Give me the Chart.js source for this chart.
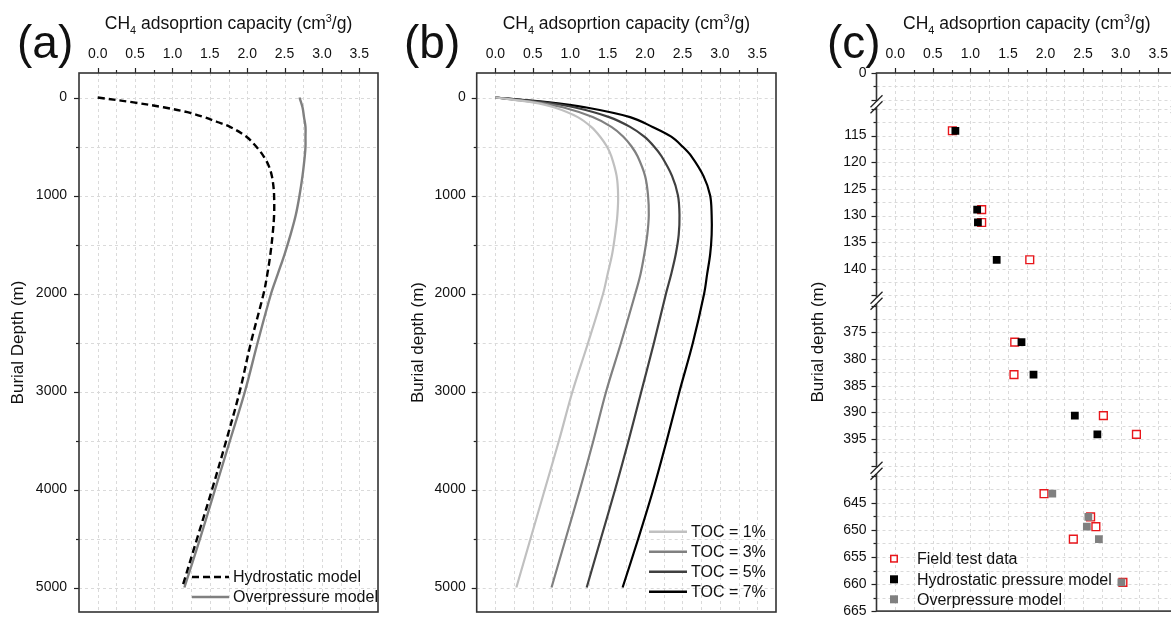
<!DOCTYPE html>
<html><head><meta charset="utf-8">
<script src="https://cdn.jsdelivr.net/npm/chart.js@4.4.1/dist/chart.umd.min.js"></script>
<style>
html,body{margin:0;padding:0;background:#fff;overflow:hidden;}
body{width:1171px;height:618px;position:relative;}
canvas{position:absolute;top:0;}
</style></head><body>
<canvas id="ca" width="400" height="618" style="left:0px"></canvas>
<canvas id="cb" width="400" height="618" style="left:400px"></canvas>
<canvas id="cc" width="400" height="618" style="left:800px"></canvas>
<script>
const FAM = '"Liberation Sans", Arial, Helvetica, sans-serif';
Chart.defaults.font.family = FAM;
Chart.defaults.color = '#111';

// ---------- shared axis ticks ----------
const capTicks = [0,0.25,0.5,0.75,1,1.25,1.5,1.75,2,2.25,2.5,2.75,3,3.25,3.5];
const capMajor = [0,0.5,1,1.5,2,2.5,3,3.5];
const capLabels = ['0.0','0.5','1.0','1.5','2.0','2.5','3.0','3.5'];
const depthTicks = [0,500,1000,1500,2000,2500,3000,3500,4000,4500,5000];
const depthLabels = [0,1000,2000,3000,4000,5000];

// ---------- panel (a) ----------
const depthHydro = [0,50,100,150,200,250,300,400,500,600,700,800,900,1000,1200,1400,1600,1800,2000,2500,3000,3500,4000,4500,5000];
const hydrostatic = [0,0.48,0.88,1.20,1.42,1.60,1.77,1.99,2.12,2.22,2.29,2.33,2.35,2.36,2.36,2.34,2.31,2.27,2.22,2.05,1.90,1.72,1.53,1.33,1.13];
const depthOver = [0,100,200,300,400,500,600,800,1000,1200,1400,1600,1800,2000,2500,3000,3500,4000,4500,5000];
const overpressure = [2.70,2.74,2.76,2.78,2.78,2.78,2.77,2.74,2.70,2.65,2.58,2.50,2.41,2.32,2.14,1.97,1.77,1.57,1.37,1.16];

// ---------- panel (b) ----------
const depthTOC = [0,50,100,200,300,400,500,600,800,1000,1200,1400,1600,1800,2000,2500,3000,3500,4000,4500,5000];
const toc1 = [0,0.50,0.78,1.10,1.28,1.40,1.49,1.55,1.62,1.64,1.63,1.60,1.56,1.50,1.44,1.24,1.03,0.85,0.66,0.47,0.28];
const toc3 = [0,0.55,0.90,1.30,1.55,1.71,1.82,1.90,2.00,2.04,2.05,2.03,1.99,1.94,1.87,1.68,1.48,1.31,1.13,0.94,0.75];
const toc5 = [0,0.65,1.05,1.52,1.80,1.99,2.12,2.22,2.36,2.44,2.46,2.45,2.41,2.35,2.28,2.12,1.95,1.78,1.60,1.41,1.22];
const toc7 = [0,0.72,1.20,1.80,2.10,2.35,2.50,2.62,2.78,2.87,2.89,2.89,2.87,2.83,2.79,2.64,2.46,2.29,2.11,1.91,1.70];
const tocNames = ['TOC = 1%','TOC = 3%','TOC = 5%','TOC = 7%'];

// ---------- panel (c) : broken depth axis ----------
const segARange = [0, 5.87],        segATicks = [0,2.5,5],  segALabels = [0];
const segBRange = [109.13, 145.98], segBTicks = [110,112.5,115,117.5,120,122.5,125,127.5,130,132.5,135,137.5,140,142.5,145], segBLabels = [115,120,125,130,135,140];
const segCRange = [369.04, 400.93], segCTicks = [370,372.5,375,377.5,380,382.5,385,387.5,390,392.5,395,397.5,400], segCLabels = [375,380,385,390,395];
const segDRange = [639.06, 665],    segDTicks = [640,642.5,645,647.5,650,652.5,655,657.5,660,662.5,665], segDLabels = [645,650,655,660,665];

const fieldDepthB = [114.1,128.9,131.3,138.3], fieldB = [0.76,1.15,1.15,1.79];
const hydroDepthB = [114.1,128.9,131.3,138.3], hydroB = [0.80,1.09,1.10,1.35];
const fieldDepthC = [376.8,382.9,390.6,394.1], fieldC = [1.59,1.58,2.77,3.21];
const hydroDepthC = [376.8,382.9,390.6,394.1], hydroC = [1.68,1.84,2.39,2.69];
const fieldDepthD = [643.3,647.6,649.4,651.7,659.7], fieldD = [1.98,2.60,2.67,2.37,3.03];
const overDepthD  = [643.3,647.6,649.4,651.7,659.7], overD  = [2.09,2.57,2.55,2.71,3.01];

const xyPairs = (xs, ys) => xs.map((x, i) => ({x: x, y: ys[i]}));

// ---------- helpers ----------
function drawRich(ctx, parts, cx, y, size) {
  const small = size * 0.62;
  const ws = parts.map(([t, m]) => { ctx.font = (m ? small : size) + 'px ' + FAM; return ctx.measureText(t).width; });
  let x = cx - ws.reduce((a, b) => a + b, 0) / 2;
  ctx.textAlign = 'left'; ctx.textBaseline = 'alphabetic';
  parts.forEach(([t, m], i) => {
    ctx.font = (m ? small : size) + 'px ' + FAM;
    ctx.fillText(t, x, y + (m === -1 ? size * 0.28 : (m === 1 ? -size * 0.40 : 0)));
    x += ws[i];
  });
}
const titleParts = [['CH', 0], ['4', -1], [' adsoprtion capacity (cm', 0], ['3', 1], ['/g)', 0]];

function makeDeco(cfg) {
  return {
    id: 'deco',
    beforeDatasetsDraw(chart) {
      const {ctx, chartArea: a} = chart;
      ctx.save();
      ctx.strokeStyle = '#dadada'; ctx.lineWidth = 1; ctx.setLineDash([3, 3]);
      for (const s of Object.values(chart.scales)) {
        for (const t of s.ticks) {
          const p = Math.round(s.getPixelForValue(t.value)) + 0.5;
          ctx.beginPath();
          if (s.isHorizontal()) {
            if (p <= a.left + 1 || p >= a.right - 1) continue;
            ctx.moveTo(p, a.top); ctx.lineTo(p, a.bottom);
          } else {
            if (p <= a.top + 1 || p >= a.bottom - 1) continue;
            ctx.moveTo(a.left, p); ctx.lineTo(a.right, p);
          }
          ctx.stroke();
        }
      }
      ctx.restore();
    },
    afterDraw(chart) {
      const {ctx, chartArea: a} = chart;
      const off = cfg.offset;
      ctx.save();
      ctx.setLineDash([]);
      // tick marks
      ctx.strokeStyle = '#222'; ctx.lineWidth = 1.2;
      for (const s of Object.values(chart.scales)) {
        for (const t of s.ticks) {
          const major = cfg.isMajor(s, t.value);
          const len = major ? 5 : 3;
          const p = Math.round(s.getPixelForValue(t.value)) + 0.5;
          ctx.beginPath();
          if (s.isHorizontal()) { ctx.moveTo(p, a.top); ctx.lineTo(p, a.top - len); }
          else { ctx.moveTo(a.left, p); ctx.lineTo(a.left - len, p); }
          ctx.stroke();
        }
      }
      // frame
      ctx.strokeStyle = '#333'; ctx.lineWidth = 1.6;
      ctx.strokeRect(a.left, a.top, a.right - a.left, a.bottom - a.top);
      // axis breaks
      if (cfg.breaks) {
        ctx.strokeStyle = '#222'; ctx.lineWidth = 1.3;
        cfg.breaks(chart).forEach(y => {
          [a.left, a.right].forEach(x => {
            ctx.fillStyle = '#fff';
            ctx.fillRect(x - 2, y - 3, 4, 6);
            [-3, 3].forEach(d => {
              ctx.beginPath();
              ctx.moveTo(x - 6, y + d + 6); ctx.lineTo(x + 6, y + d - 6); ctx.stroke();
            });
          });
        });
      }
      // titles
      ctx.fillStyle = '#111';
      drawRich(ctx, titleParts, (a.left + a.right) / 2, 29, 17.5);
      ctx.save();
      ctx.translate(cfg.yTitleX - off, (a.top + a.bottom) / 2);
      ctx.rotate(-Math.PI / 2);
      ctx.font = '17px ' + FAM; ctx.textAlign = 'center'; ctx.textBaseline = 'middle';
      ctx.fillText(cfg.yTitle, 0, 0);
      ctx.restore();
      ctx.font = '46px ' + FAM; ctx.textAlign = 'left'; ctx.textBaseline = 'alphabetic';
      ctx.fillText(cfg.panel, cfg.panelX - off, 58);
      // legend
      ctx.font = '16px ' + FAM; ctx.textBaseline = 'middle'; ctx.textAlign = 'left';
      cfg.legend.forEach(it => {
        ctx.save();
        if (it.kind === 'line') {
          ctx.strokeStyle = it.color; ctx.lineWidth = it.width; ctx.setLineDash(it.dash || []);
          ctx.beginPath(); ctx.moveTo(it.x1 - off, it.y); ctx.lineTo(it.x2 - off, it.y); ctx.stroke();
        } else {
          const s = 8, cx = it.x1 - off;
          if (it.hollow) {
            ctx.fillStyle = '#fff'; ctx.fillRect(cx - s / 2, it.y - s / 2, s, s);
            ctx.strokeStyle = it.color; ctx.lineWidth = 1.5; ctx.strokeRect(cx - s / 2 + 0.75, it.y - s / 2 + 0.75, s - 1.5, s - 1.5);
          } else { ctx.fillStyle = it.color; ctx.fillRect(cx - s / 2, it.y - s / 2, s, s); }
        }
        ctx.restore();
        ctx.fillStyle = '#111';
        ctx.fillText(it.text, it.tx - off, it.y + 1);
      });
      ctx.restore();
    }
  };
}

function xScale() {
  return {
    type: 'linear', position: 'top', min: -0.25, max: 3.75,
    afterBuildTicks: s => { s.ticks = capTicks.map(v => ({value: v})); },
    afterFit: s => { s.height = 73; s.paddingLeft = 0; s.paddingRight = 0; },
    grid: {display: false, drawTicks: false}, border: {display: false},
    ticks: {autoSkip: false, maxRotation: 0, minRotation: 0, padding: 10, font: {size: 14}, color: '#111',
      callback: v => { const i = capMajor.indexOf(v); return i >= 0 ? capLabels[i] : ''; }}
  };
}
function depthScale(w, pad) {
  return {
    type: 'linear', position: 'left', reverse: true, min: -250, max: 5250,
    afterBuildTicks: s => { s.ticks = depthTicks.map(v => ({value: v})); },
    afterFit: s => { s.width = w; s.paddingTop = 0; s.paddingBottom = 0; },
    grid: {display: false, drawTicks: false}, border: {display: false},
    ticks: {autoSkip: false, padding: pad, font: {size: 14}, color: '#111',
      callback: v => depthLabels.includes(v) ? String(v) : ''}
  };
}
const isMajorAB = (s, v) => s.isHorizontal() ? capMajor.includes(v) : depthLabels.includes(v);
const lineDS = (label, xs, ys, color, width, dash) => ({
  label, data: xyPairs(xs, ys), showLine: true, borderColor: color, backgroundColor: color,
  borderWidth: width, borderDash: dash || [], pointRadius: 0, tension: 0.35, fill: false
});
const common = (padR, padB) => ({
  responsive: false, animation: false, devicePixelRatio: 1,
  layout: {padding: {left: 0, right: padR, top: 0, bottom: padB}},
  plugins: {legend: {display: false}, tooltip: {enabled: false}, title: {display: false}}
});

// chart (a)
new Chart(document.getElementById('ca'), {
  type: 'scatter',
  data: {datasets: [
    lineDS('Hydrostatic model', hydrostatic, depthHydro, '#000', 2.4, [7, 4]),
    lineDS('Overpressure model', overpressure, depthOver, '#808080', 2.4)
  ]},
  options: Object.assign(common(22, 6), {scales: {x: xScale(), y: depthScale(79, 12)}}),
  plugins: [makeDeco({
    offset: 0, isMajor: isMajorAB, yTitle: 'Burial Depth (m)', yTitleX: 18, panel: '(a)', panelX: 17,
    legend: [
      {kind: 'line', color: '#000', width: 2.4, dash: [7, 4], x1: 192, x2: 229, y: 577, text: 'Hydrostatic model', tx: 233},
      {kind: 'line', color: '#808080', width: 2.4, x1: 192, x2: 229, y: 597, text: 'Overpressure model', tx: 233}
    ]
  })]
});

// chart (b)
const tocColors = ['#c0c0c0', '#808080', '#404040', '#000000'];
new Chart(document.getElementById('cb'), {
  type: 'scatter',
  data: {datasets: [
    lineDS(tocNames[0], toc1, depthTOC, tocColors[0], 2.2),
    lineDS(tocNames[1], toc3, depthTOC, tocColors[1], 2.2),
    lineDS(tocNames[2], toc5, depthTOC, tocColors[2], 2.2),
    lineDS(tocNames[3], toc7, depthTOC, tocColors[3], 2.2)
  ]},
  options: Object.assign(common(24, 6), {scales: {x: xScale(), y: depthScale(76.7, 11)}}),
  plugins: [makeDeco({
    offset: 400, isMajor: isMajorAB, yTitle: 'Burial depth (m)', yTitleX: 418, panel: '(b)', panelX: 404,
    legend: tocNames.map((n, i) => ({kind: 'line', color: tocColors[i], width: 2.6, x1: 649, x2: 687, y: 531.7 + 20 * i, text: n, tx: 691}))
  })]
});

// chart (c) — stacked depth segments (last defined is drawn at the top)
function segScale(range, ticks, labels, weight) {
  return {
    type: 'linear', position: 'left', stack: 'depth', stackWeight: weight, reverse: true, min: range[0], max: range[1],
    afterBuildTicks: s => { s.ticks = ticks.map(v => ({value: v})); },
    afterFit: s => { s.width = 76.5; s.paddingTop = 0; s.paddingBottom = 0; },
    grid: {display: false, drawTicks: false}, border: {display: false},
    ticks: {autoSkip: false, padding: 10, font: {size: 14}, color: '#111',
      callback: v => labels.includes(v) ? String(v) : ''}
  };
}
const ptDS = (label, xs, ys, axis, color, hollow, order) => ({
  label, data: xyPairs(xs, ys), yAxisID: axis, pointStyle: 'rect', pointRadius: 5.5,
  pointBorderWidth: hollow ? 1.4 : 0, pointBorderColor: color, pointBackgroundColor: hollow ? '#fff' : color,
  showLine: false, order: order
});
new Chart(document.getElementById('cc'), {
  type: 'scatter',
  data: {datasets: [
    ptDS('Field test data', fieldB, fieldDepthB, 'yB', '#e8161b', true, 2),
    ptDS('Hydrostatic pressure model', hydroB, hydroDepthB, 'yB', '#000', false, 1),
    ptDS('Field test data', fieldC, fieldDepthC, 'yC', '#e8161b', true, 2),
    ptDS('Hydrostatic pressure model', hydroC, hydroDepthC, 'yC', '#000', false, 1),
    ptDS('Field test data', fieldD, fieldDepthD, 'yD', '#e8161b', true, 2),
    ptDS('Overpressure model', overD, overDepthD, 'yD', '#808080', false, 1)
  ]},
  options: Object.assign(common(23, 5), {scales: {
    x: xScale(),
    yD: segScale(segDRange, segDTicks, segDLabels, 140.4),
    yC: segScale(segCRange, segCTicks, segCLabels, 170.1),
    yB: segScale(segBRange, segBTicks, segBLabels, 196.5),
    yA: segScale(segARange, segATicks, segALabels, 31.3)
  }}),
  plugins: [makeDeco({
    offset: 800,
    isMajor: (s, v) => s.isHorizontal() ? capMajor.includes(v) : (Math.abs(v % 5) < 1e-9),
    yTitle: 'Burial depth (m)', yTitleX: 818, panel: '(c)', panelX: 827,
    breaks: ch => [ch.scales.yA.bottom, ch.scales.yB.bottom, ch.scales.yC.bottom],
    legend: [
      {kind: 'pt', hollow: true, color: '#e8161b', x1: 894, y: 558.7, text: 'Field test data', tx: 917},
      {kind: 'pt', color: '#000', x1: 894, y: 579.3, text: 'Hydrostatic pressure model', tx: 917},
      {kind: 'pt', color: '#808080', x1: 894, y: 599.3, text: 'Overpressure model', tx: 917}
    ]
  })]
});
</script></body></html>
